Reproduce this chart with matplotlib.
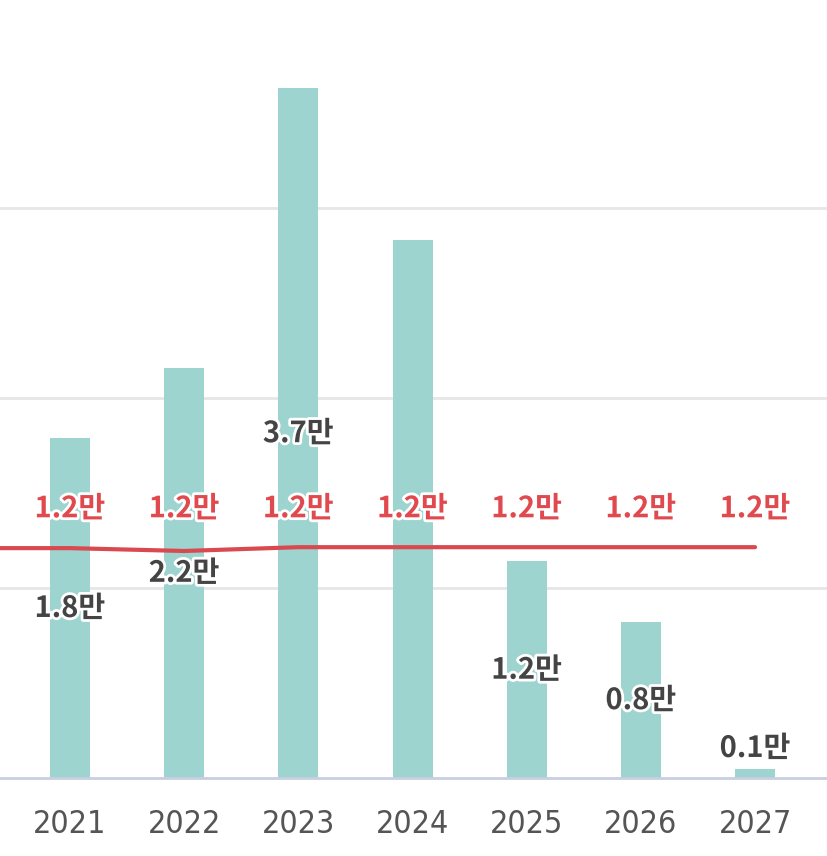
import matplotlib
matplotlib.use("Agg")
import matplotlib.pyplot as plt
import matplotlib.patheffects as pe

plt.rcParams['font.family'] = ['Noto Sans CJK KR', 'DejaVu Sans']

years = ["2021", "2022", "2023", "2024", "2025", "2026", "2027"]
bar_values = [1.79, 2.16, 3.63, 2.83, 1.14, 0.82, 0.05]
bar_labels = ["1.8만", "2.2만", "3.7만", None, "1.2만", "0.8만", "0.1만"]
# reference line (starts a bit before 2021, at the left edge of the chart)
line_x = [-1, 0, 1, 2, 3, 4, 5, 6]
line_values = [1.21, 1.21, 1.195, 1.215, 1.215, 1.215, 1.215, 1.215]
line_labels = ["1.2만"] * 7

bar_color = "#9dd4cf"
red = "#d84a4f"
red_text = "#e04a4f"
dark_text = "#444444"

fig = plt.figure(figsize=(8.27, 8.56), dpi=100)
ax = fig.add_axes([0, 0.0911, 1, 0.9089])

x = list(range(len(years)))
ax.bar(x, bar_values, width=0.35, color=bar_color, zorder=2)
ax.plot(line_x, line_values, color=red, lw=3, solid_capstyle="round", zorder=3)

outline = [pe.withStroke(linewidth=4, foreground="white")]

for i, (v, lab) in enumerate(zip(bar_values, bar_labels)):
    if lab is None:
        continue
    if v < 0.3:
        ax.annotate(lab, (i, v), xytext=(0, 4), textcoords="offset points",
                    ha="center", va="bottom", fontsize=21, fontweight="bold",
                    color=dark_text, path_effects=outline, zorder=4)
    else:
        ax.text(i, v / 2, lab, ha="center", va="center", fontsize=21,
                fontweight="bold", color=dark_text, path_effects=outline, zorder=4)

label_y = max(line_values)
for i, lab in enumerate(line_labels):
    ax.annotate(lab, (i, label_y), xytext=(0, 28), textcoords="offset points",
                ha="center", va="center", fontsize=21, fontweight="bold",
                color=red_text, path_effects=outline, zorder=5)

ax.set_xlim(-0.613, 6.63)
ax.set_ylim(0, 4.095)
ax.set_yticks([1, 2, 3])
ax.grid(axis="y", color="#e6e6e6", lw=2, zorder=0)
ax.tick_params(axis="y", left=False, labelleft=False)
ax.tick_params(axis="x", length=0, pad=22)
ax.set_xticks(x)
ax.set_xticklabels(years, fontsize=23, color="#555555", family="DejaVu Sans",
                   fontstretch="condensed")

for s in ["left", "right", "top"]:
    ax.spines[s].set_visible(False)
ax.spines["bottom"].set_color("#c9cee0")
ax.spines["bottom"].set_linewidth(2)

fig.savefig("out.png", dpi=100, facecolor="white")
